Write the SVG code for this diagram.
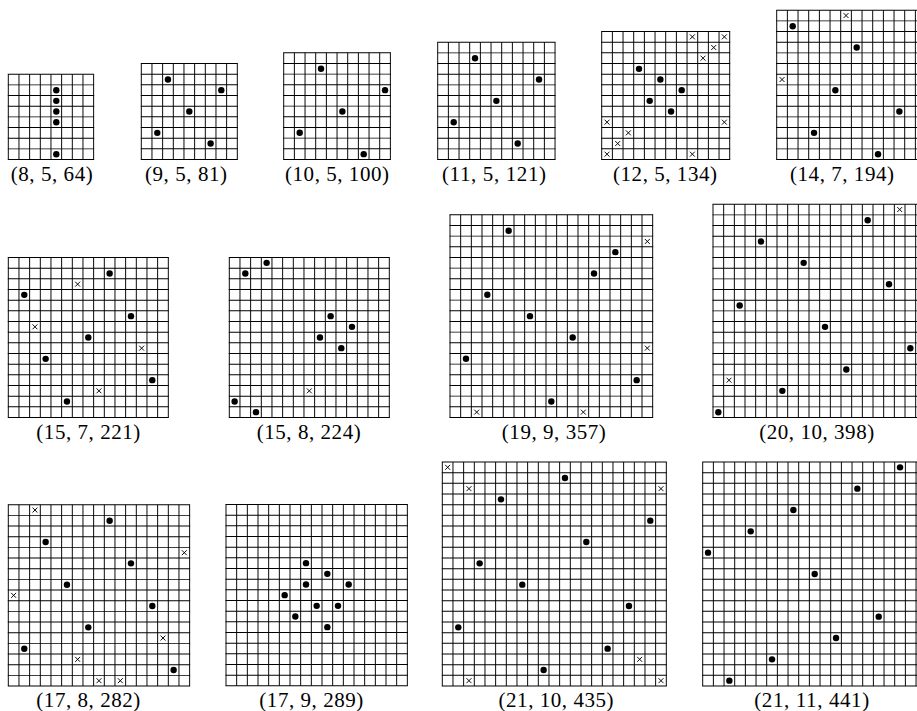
<svg xmlns="http://www.w3.org/2000/svg" xmlns:xlink="http://www.w3.org/1999/xlink" width="917" height="711" viewBox="0 0 917 711">
<style>
.gl{stroke:#000;fill:none;stroke-dasharray:.09 .91}
.d{fill:#000}
.lbl{font-family:"Liberation Serif","DejaVu Serif",serif;font-size:21px;fill:#000;text-anchor:middle}
</style>
<defs>
<path id="x" d="M-.23,-.23L.23,.23M-.23,.23L.23,-.23" stroke="#000" stroke-width=".09" fill="none"/>
</defs>
<rect width="917" height="711" fill="#fff"/>
<g id="connectors"></g>

<g id="n8-5-64">
<g transform="translate(8.3,74.2) scale(10.667)">
<line class="gl" x1="-.045" y1="4" x2="8.045" y2="4" stroke-width="8"/>
<line class="gl" x1="4" y1="-.045" x2="4" y2="8.045" stroke-width="8.09"/>
<g class="d"><circle cx="4.5" cy="1.5" r=".3"/><circle cx="4.5" cy="2.5" r=".3"/><circle cx="4.5" cy="3.5" r=".3"/><circle cx="4.5" cy="4.5" r=".3"/><circle cx="4.5" cy="7.5" r=".3"/></g>
</g>
<text class="lbl" x="51.7" y="180.5" textLength="82" lengthAdjust="spacing">(8, 5, 64)</text>
</g>

<g id="n9-5-81">
<g transform="translate(141.3,63.5) scale(10.667)">
<line class="gl" x1="-.045" y1="4.5" x2="9.045" y2="4.5" stroke-width="9"/>
<line class="gl" x1="4.5" y1="-.045" x2="4.5" y2="9.045" stroke-width="9.09"/>
<g class="d"><circle cx="2.5" cy="1.5" r=".3"/><circle cx="7.5" cy="2.5" r=".3"/><circle cx="4.5" cy="4.5" r=".3"/><circle cx="1.5" cy="6.5" r=".3"/><circle cx="6.5" cy="7.5" r=".3"/></g>
</g>
<text class="lbl" x="186" y="180.5" textLength="82" lengthAdjust="spacing">(9, 5, 81)</text>
</g>

<g id="n10-5-100">
<g transform="translate(283.7,52.8) scale(10.667)">
<line class="gl" x1="-.045" y1="5" x2="10.045" y2="5" stroke-width="10"/>
<line class="gl" x1="5" y1="-.045" x2="5" y2="10.045" stroke-width="10.09"/>
<g class="d"><circle cx="3.5" cy="1.5" r=".3"/><circle cx="9.5" cy="3.5" r=".3"/><circle cx="5.5" cy="5.5" r=".3"/><circle cx="1.5" cy="7.5" r=".3"/><circle cx="7.5" cy="9.5" r=".3"/></g>
</g>
<text class="lbl" x="337" y="180.5" textLength="104" lengthAdjust="spacing">(10, 5, 100)</text>
</g>

<g id="n11-5-121">
<g transform="translate(437.7,42.2) scale(10.667)">
<line class="gl" x1="-.045" y1="5.5" x2="11.045" y2="5.5" stroke-width="11"/>
<line class="gl" x1="5.5" y1="-.045" x2="5.5" y2="11.045" stroke-width="11.09"/>
<g class="d"><circle cx="3.5" cy="1.5" r=".3"/><circle cx="9.5" cy="3.5" r=".3"/><circle cx="5.5" cy="5.5" r=".3"/><circle cx="1.5" cy="7.5" r=".3"/><circle cx="7.5" cy="9.5" r=".3"/></g>
</g>
<text class="lbl" x="494" y="180.5" textLength="104" lengthAdjust="spacing">(11, 5, 121)</text>
</g>

<g id="n12-5-134">
<g transform="translate(601.7,31.5) scale(10.667)">
<line class="gl" x1="-.045" y1="6" x2="12.045" y2="6" stroke-width="12"/>
<line class="gl" x1="6" y1="-.045" x2="6" y2="12.045" stroke-width="12.09"/>
<g class="d"><circle cx="3.5" cy="3.5" r=".3"/><circle cx="5.5" cy="4.5" r=".3"/><circle cx="7.5" cy="5.5" r=".3"/><circle cx="4.5" cy="6.5" r=".3"/><circle cx="6.5" cy="7.5" r=".3"/></g>
<use xlink:href="#x" x="8.5" y=".5"/><use xlink:href="#x" x="11.5" y=".5"/><use xlink:href="#x" x="10.5" y="1.5"/><use xlink:href="#x" x="9.5" y="2.5"/><use xlink:href="#x" x=".5" y="8.5"/><use xlink:href="#x" x="11.5" y="8.5"/><use xlink:href="#x" x="2.5" y="9.5"/><use xlink:href="#x" x="1.5" y="10.5"/><use xlink:href="#x" x=".5" y="11.5"/><use xlink:href="#x" x="8.5" y="11.5"/>
</g>
<text class="lbl" x="665" y="180.5" textLength="104" lengthAdjust="spacing">(12, 5, 134)</text>
</g>

<g id="n14-7-194">
<g transform="translate(776.7,10.2) scale(10.667)">
<line class="gl" x1="-.045" y1="7" x2="14.045" y2="7" stroke-width="14"/>
<line class="gl" x1="7" y1="-.045" x2="7" y2="14.045" stroke-width="14.09"/>
<g class="d"><circle cx="1.5" cy="1.5" r=".3"/><circle cx="7.5" cy="3.5" r=".3"/><circle cx="5.5" cy="7.5" r=".3"/><circle cx="11.5" cy="9.5" r=".3"/><circle cx="3.5" cy="11.5" r=".3"/><circle cx="9.5" cy="13.5" r=".3"/></g>
<use xlink:href="#x" x="6.5" y=".5"/><use xlink:href="#x" x=".5" y="6.5"/>
</g>
<text class="lbl" x="842" y="180.5" textLength="104" lengthAdjust="spacing">(14, 7, 194)</text>
</g>

<g id="n15-7-221">
<g transform="translate(8.3,257.5) scale(10.667)">
<line class="gl" x1="-.045" y1="7.5" x2="15.045" y2="7.5" stroke-width="15"/>
<line class="gl" x1="7.5" y1="-.045" x2="7.5" y2="15.045" stroke-width="15.09"/>
<g class="d"><circle cx="9.5" cy="1.5" r=".3"/><circle cx="1.5" cy="3.5" r=".3"/><circle cx="11.5" cy="5.5" r=".3"/><circle cx="7.5" cy="7.5" r=".3"/><circle cx="3.5" cy="9.5" r=".3"/><circle cx="13.5" cy="11.5" r=".3"/><circle cx="5.5" cy="13.5" r=".3"/></g>
<use xlink:href="#x" x="6.5" y="2.5"/><use xlink:href="#x" x="2.5" y="6.5"/><use xlink:href="#x" x="12.5" y="8.5"/><use xlink:href="#x" x="8.5" y="12.5"/>
</g>
<text class="lbl" x="88.3" y="438.5" textLength="104" lengthAdjust="spacing">(15, 7, 221)</text>
</g>

<g id="n15-8-224">
<g transform="translate(229.3,257.5) scale(10.667)">
<line class="gl" x1="-.045" y1="7.5" x2="15.045" y2="7.5" stroke-width="15"/>
<line class="gl" x1="7.5" y1="-.045" x2="7.5" y2="15.045" stroke-width="15.09"/>
<g class="d"><circle cx="3.5" cy=".5" r=".3"/><circle cx="1.5" cy="1.5" r=".3"/><circle cx="9.5" cy="5.5" r=".3"/><circle cx="11.5" cy="6.5" r=".3"/><circle cx="8.5" cy="7.5" r=".3"/><circle cx="10.5" cy="8.5" r=".3"/><circle cx=".5" cy="13.5" r=".3"/><circle cx="2.5" cy="14.5" r=".3"/></g>
<use xlink:href="#x" x="7.5" y="12.5"/>
</g>
<text class="lbl" x="308.7" y="438.5" textLength="104" lengthAdjust="spacing">(15, 8, 224)</text>
</g>

<g id="n19-9-357">
<g transform="translate(450,214.8) scale(10.667)">
<line class="gl" x1="-.045" y1="9.5" x2="19.045" y2="9.5" stroke-width="19"/>
<line class="gl" x1="9.5" y1="-.045" x2="9.5" y2="19.045" stroke-width="19.09"/>
<g class="d"><circle cx="5.5" cy="1.5" r=".3"/><circle cx="15.5" cy="3.5" r=".3"/><circle cx="13.5" cy="5.5" r=".3"/><circle cx="3.5" cy="7.5" r=".3"/><circle cx="7.5" cy="9.5" r=".3"/><circle cx="11.5" cy="11.5" r=".3"/><circle cx="1.5" cy="13.5" r=".3"/><circle cx="17.5" cy="15.5" r=".3"/><circle cx="9.5" cy="17.5" r=".3"/></g>
<use xlink:href="#x" x="18.5" y="2.5"/><use xlink:href="#x" x="18.5" y="12.5"/><use xlink:href="#x" x="2.5" y="18.5"/><use xlink:href="#x" x="12.5" y="18.5"/>
</g>
<text class="lbl" x="553.8" y="438.5" textLength="104" lengthAdjust="spacing">(19, 9, 357)</text>
</g>

<g id="n20-10-398">
<g transform="translate(713,204.2) scale(10.667)">
<line class="gl" x1="-.045" y1="10" x2="20.045" y2="10" stroke-width="20"/>
<line class="gl" x1="10" y1="-.045" x2="10" y2="20.045" stroke-width="20.09"/>
<g class="d"><circle cx="14.5" cy="1.5" r=".3"/><circle cx="4.5" cy="3.5" r=".3"/><circle cx="8.5" cy="5.5" r=".3"/><circle cx="16.5" cy="7.5" r=".3"/><circle cx="2.5" cy="9.5" r=".3"/><circle cx="10.5" cy="11.5" r=".3"/><circle cx="18.5" cy="13.5" r=".3"/><circle cx="12.5" cy="15.5" r=".3"/><circle cx="6.5" cy="17.5" r=".3"/><circle cx=".5" cy="19.5" r=".3"/></g>
<use xlink:href="#x" x="17.5" y=".5"/><use xlink:href="#x" x="1.5" y="16.5"/>
</g>
<text class="lbl" x="816.7" y="438.5" textLength="115" lengthAdjust="spacing">(20, 10, 398)</text>
</g>

<g id="n17-8-282">
<g transform="translate(8.3,504.7) scale(10.667)">
<line class="gl" x1="-.045" y1="8.5" x2="17.045" y2="8.5" stroke-width="17"/>
<line class="gl" x1="8.5" y1="-.045" x2="8.5" y2="17.045" stroke-width="17.09"/>
<g class="d"><circle cx="9.5" cy="1.5" r=".3"/><circle cx="3.5" cy="3.5" r=".3"/><circle cx="11.5" cy="5.5" r=".3"/><circle cx="5.5" cy="7.5" r=".3"/><circle cx="13.5" cy="9.5" r=".3"/><circle cx="7.5" cy="11.5" r=".3"/><circle cx="1.5" cy="13.5" r=".3"/><circle cx="15.5" cy="15.5" r=".3"/></g>
<use xlink:href="#x" x="2.5" y=".5"/><use xlink:href="#x" x="16.5" y="4.5"/><use xlink:href="#x" x=".5" y="8.5"/><use xlink:href="#x" x="14.5" y="12.5"/><use xlink:href="#x" x="6.5" y="14.5"/><use xlink:href="#x" x="8.5" y="16.5"/><use xlink:href="#x" x="10.5" y="16.5"/>
</g>
<text class="lbl" x="88.3" y="707" textLength="104" lengthAdjust="spacing">(17, 8, 282)</text>
</g>

<g id="n17-9-289">
<g transform="translate(226,504.5) scale(10.667)">
<line class="gl" x1="-.045" y1="8.5" x2="17.045" y2="8.5" stroke-width="17"/>
<line class="gl" x1="8.5" y1="-.045" x2="8.5" y2="17.045" stroke-width="17.09"/>
<g class="d"><circle cx="7.5" cy="5.5" r=".3"/><circle cx="9.5" cy="6.5" r=".3"/><circle cx="7.5" cy="7.5" r=".3"/><circle cx="11.5" cy="7.5" r=".3"/><circle cx="5.5" cy="8.5" r=".3"/><circle cx="8.5" cy="9.5" r=".3"/><circle cx="10.5" cy="9.5" r=".3"/><circle cx="6.5" cy="10.5" r=".3"/><circle cx="9.5" cy="11.5" r=".3"/></g>
</g>
<text class="lbl" x="311.3" y="707" textLength="104" lengthAdjust="spacing">(17, 9, 289)</text>
</g>

<g id="n21-10-435">
<g transform="translate(442.3,462) scale(10.667)">
<line class="gl" x1="-.045" y1="10.5" x2="21.045" y2="10.5" stroke-width="21"/>
<line class="gl" x1="10.5" y1="-.045" x2="10.5" y2="21.045" stroke-width="21.09"/>
<g class="d"><circle cx="11.5" cy="1.5" r=".3"/><circle cx="5.5" cy="3.5" r=".3"/><circle cx="19.5" cy="5.5" r=".3"/><circle cx="13.5" cy="7.5" r=".3"/><circle cx="3.5" cy="9.5" r=".3"/><circle cx="7.5" cy="11.5" r=".3"/><circle cx="17.5" cy="13.5" r=".3"/><circle cx="1.5" cy="15.5" r=".3"/><circle cx="15.5" cy="17.5" r=".3"/><circle cx="9.5" cy="19.5" r=".3"/></g>
<use xlink:href="#x" x=".5" y=".5"/><use xlink:href="#x" x="2.5" y="2.5"/><use xlink:href="#x" x="20.5" y="2.5"/><use xlink:href="#x" x="18.5" y="18.5"/><use xlink:href="#x" x="2.5" y="20.5"/><use xlink:href="#x" x="20.5" y="20.5"/>
</g>
<text class="lbl" x="556" y="707" textLength="115" lengthAdjust="spacing">(21, 10, 435)</text>
</g>

<g id="n21-11-441">
<g transform="translate(702.7,462) scale(10.667)">
<line class="gl" x1="-.045" y1="10.5" x2="21.045" y2="10.5" stroke-width="21"/>
<line class="gl" x1="10.5" y1="-.045" x2="10.5" y2="21.045" stroke-width="21.09"/>
<g class="d"><circle cx="18.5" cy=".5" r=".3"/><circle cx="14.5" cy="2.5" r=".3"/><circle cx="8.5" cy="4.5" r=".3"/><circle cx="4.5" cy="6.5" r=".3"/><circle cx=".5" cy="8.5" r=".3"/><circle cx="10.5" cy="10.5" r=".3"/><circle cx="16.5" cy="14.5" r=".3"/><circle cx="12.5" cy="16.5" r=".3"/><circle cx="6.5" cy="18.5" r=".3"/><circle cx="2.5" cy="20.5" r=".3"/></g>
</g>
<text class="lbl" x="811.7" y="707" textLength="115" lengthAdjust="spacing">(21, 11, 441)</text>
</g>
</svg>
